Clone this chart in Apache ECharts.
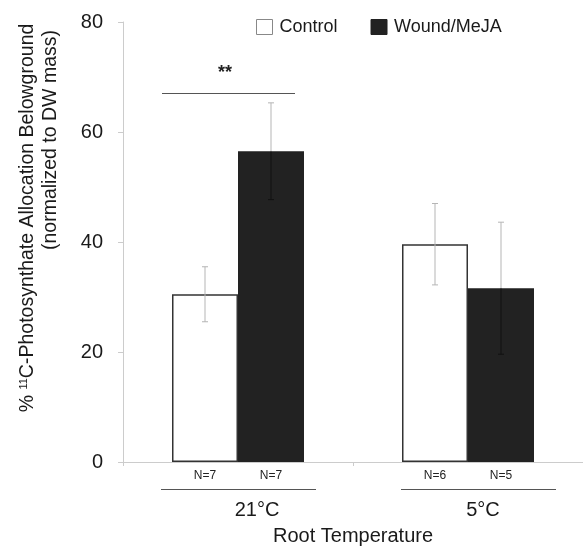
<!DOCTYPE html>
<html>
<head>
<meta charset="utf-8">
<script src="https://cdn.jsdelivr.net/npm/echarts@6/dist/echarts.min.js"></script>
<style>
  html, body { margin: 0; padding: 0; background: #fff; }
  #main { width: 583px; height: 546px; }
</style>
</head>
<body>
<div id="main"></div>
<script>
// data
const temps = ['21°C', '5°C'];
const groups = ['Control', 'Wound/MeJA'];
const controlMean = [30.5, 39.6];
const controlErr = [5.0, 7.4];
const woundMean = [56.5, 31.6];
const woundErr = [8.8, 12.0];
const controlN = ['N=7', 'N=6'];
const woundN = ['N=7', 'N=5'];
const sigLevel = 67;   // height of the ** bracket
const sigMark = '**';

const FONT = 'Liberation Sans, Arial, sans-serif';
const BAR_W = 66;

const chart = echarts.init(document.getElementById('main'));

// error bars: [category, mean, err, side] side -1 = control, +1 = wound
const errData = [];
temps.forEach(function (t, i) {
  errData.push([i, controlMean[i], controlErr[i], -1]);
  errData.push([i, woundMean[i], woundErr[i], 1]);
});

function renderError(params, api) {
  const cat = api.value(0), mean = api.value(1), err = api.value(2), side = api.value(3);
  const x = api.coord([cat, 0])[0] + side * BAR_W / 2;
  const yTop = api.coord([cat, mean + err])[1];
  const yMid = api.coord([cat, mean])[1];
  const yBot = api.coord([cat, mean - err])[1];
  const outer = '#b5b5b5';
  const inner = side > 0 ? '#111' : '#b5b5b5';
  const c = 3;
  return {
    type: 'group',
    children: [
      { type: 'line', shape: { x1: x, y1: yTop, x2: x, y2: yMid }, style: { stroke: outer, lineWidth: 1 } },
      { type: 'line', shape: { x1: x - c, y1: yTop, x2: x + c, y2: yTop }, style: { stroke: outer, lineWidth: 1 } },
      { type: 'line', shape: { x1: x, y1: yMid, x2: x, y2: yBot }, style: { stroke: inner, lineWidth: 1 } },
      { type: 'line', shape: { x1: x - c, y1: yBot, x2: x + c, y2: yBot }, style: { stroke: inner, lineWidth: 1 } }
    ]
  };
}

// labels under the axis: N counts, bracket line, temperature
function renderBottom(params, api) {
  const cat = api.value(0);
  const p = api.coord([cat, 0]);
  const cx = p[0], y0 = p[1];
  const shift = cat === 0 ? 0 : 10;
  return {
    type: 'group',
    children: [
      { type: 'text', x: cx - BAR_W / 2, y: y0 + 14, style: { text: controlN[cat], font: '12px ' + FONT, fill: '#222', align: 'center', verticalAlign: 'middle' } },
      { type: 'text', x: cx + BAR_W / 2, y: y0 + 14, style: { text: woundN[cat], font: '12px ' + FONT, fill: '#222', align: 'center', verticalAlign: 'middle' } },
      { type: 'line', shape: { x1: cx - 77 + shift, y1: y0 + 27.5, x2: cx + 78 + shift, y2: y0 + 27.5 }, style: { stroke: '#555', lineWidth: 1 } },
      { type: 'text', x: cx + 19 - (cat === 0 ? 0 : 4), y: y0 + 48, style: { text: temps[cat], font: '20px ' + FONT, fill: '#1a1a1a', align: 'center', verticalAlign: 'middle' } }
    ]
  };
}

function renderSig(params, api) {
  const p = api.coord([api.value(0), api.value(1)]);
  return {
    type: 'group',
    children: [
      { type: 'line', shape: { x1: p[0] - 76, y1: p[1], x2: p[0] + 57, y2: p[1] }, style: { stroke: '#555', lineWidth: 1 } },
      { type: 'text', x: p[0] - 13, y: p[1] - 20, style: { text: sigMark, font: 'bold 18px ' + FONT, fill: '#222', align: 'center', verticalAlign: 'middle' } }
    ]
  };
}

chart.setOption({
  animation: false,
  backgroundColor: '#fff',
  textStyle: { fontFamily: FONT },
  grid: { left: 123, right: 0, top: 22, bottom: 84 },
  legend: {
    left: 256, top: 18, padding: 0,
    itemWidth: 16, itemHeight: 15, itemGap: 33,
    icon: 'rect',
    textStyle: { fontSize: 18, color: '#1a1a1a', fontFamily: FONT, padding: [0, 0, 0, 2] },
    data: [
      { name: groups[0], itemStyle: { color: '#fff', borderColor: '#888', borderWidth: 1 } },
      { name: groups[1], itemStyle: { color: '#222', borderColor: '#222', borderWidth: 1 } }
    ]
  },
  xAxis: {
    type: 'category',
    data: temps,
    axisLine: { lineStyle: { color: '#ccc' } },
    axisTick: { show: true, length: 4, lineStyle: { color: '#ccc' } },
    axisLabel: { show: false },
    splitLine: { show: false }
  },
  yAxis: {
    type: 'value',
    min: 0, max: 80, interval: 20,
    axisLine: { show: true, lineStyle: { color: '#ccc' } },
    axisTick: { show: true, length: 5, lineStyle: { color: '#ccc' } },
    axisLabel: { fontSize: 20, color: '#1a1a1a', margin: 20, fontFamily: FONT },
    splitLine: { show: false }
  },
  graphic: [
    {
      type: 'text', x: 28, y: 218, rotation: Math.PI / 2,
      style: {
        text: '% {sup|11}C-Photosynthate Allocation Belowground',
        font: '19.5px ' + FONT, fill: '#1a1a1a', align: 'center', verticalAlign: 'middle',
        rich: { sup: { fontSize: 11, verticalAlign: 'top', lineHeight: 19, fill: '#1a1a1a' } }
      }
    },
    {
      type: 'text', x: 51, y: 140, rotation: Math.PI / 2,
      style: { text: '(normalized to DW mass)', font: '19.5px ' + FONT, fill: '#1a1a1a', align: 'center', verticalAlign: 'middle' }
    },
    {
      type: 'text', x: 353, y: 536,
      style: { text: 'Root Temperature', font: '20px ' + FONT, fill: '#1a1a1a', align: 'center', verticalAlign: 'middle' }
    }
  ],
  series: [
    {
      name: groups[0], type: 'bar', data: controlMean,
      barWidth: BAR_W, barGap: '0%',
      itemStyle: { color: '#fff', borderColor: '#333', borderWidth: 1.5 }
    },
    {
      name: groups[1], type: 'bar', data: woundMean,
      barWidth: BAR_W,
      itemStyle: { color: '#222', borderColor: '#222', borderWidth: 1.5 }
    },
    {
      type: 'custom', data: errData, renderItem: renderError, z: 5, silent: true
    },
    {
      type: 'custom', data: temps.map(function (t, i) { return [i, 0]; }),
      renderItem: renderBottom, clip: false, silent: true
    },
    {
      type: 'custom', data: [[0, sigLevel]], renderItem: renderSig, clip: false, silent: true
    }
  ]
});
</script>
</body>
</html>
